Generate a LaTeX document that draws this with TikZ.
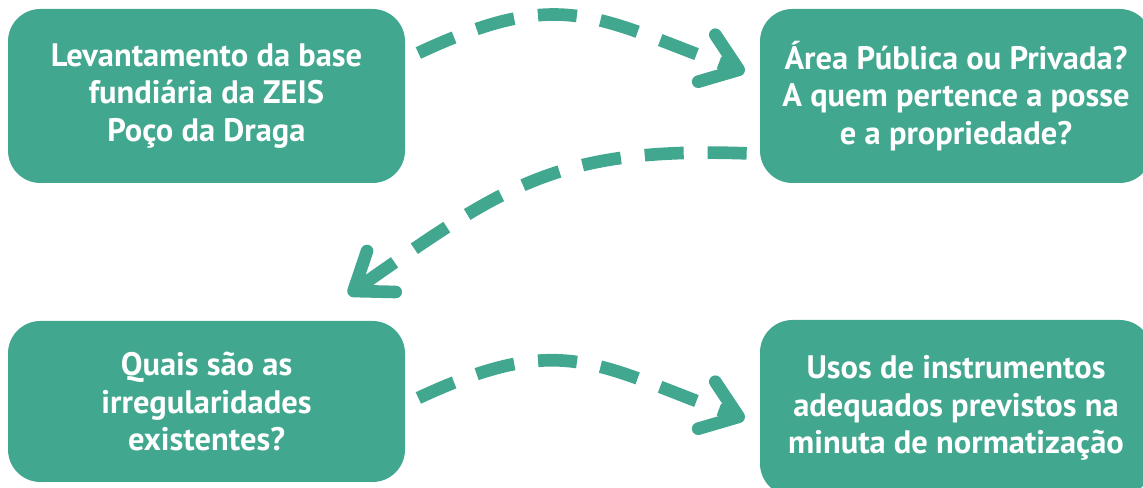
\documentclass[tikz,border=0pt]{standalone}
\usepackage{fontspec}
\setmainfont{PT Sans}
\usetikzlibrary{arrows.meta}
\definecolor{zeisgreen}{HTML}{41A78F}

\begin{document}
\begin{tikzpicture}[
  box/.style={fill=zeisgreen, rounded corners=0.65cm, text=white, align=center,
    font=\bfseries\fontsize{18.5}{21.5}\selectfont, inner sep=0pt},
  flow/.style={zeisgreen, line width=7.2pt, dash pattern=on 0.78cm off 0.48cm,
    -{Straight Barb[length=0.68cm, width=1.0cm, round]}}]
%\draw[help lines] (0,0) grid (23,10);
\clip (0,0) rectangle (22.86,9.76);

\node[box, minimum width=7.94cm, minimum height=3.48cm] (base) at (4.13,7.84)
  {Levantamento da base\\fundiária da ZEIS\\Poço da Draga};
\node[box, minimum width=7.84cm, minimum height=3.48cm] (area) at (19.12,7.84)
  {Área Pública ou Privada?\\A quem pertence a posse\\e a propriedade?};
\node[box, minimum width=7.94cm, minimum height=3.22cm] (irreg) at (4.13,1.73)
  {Quais são as\\irregularidades\\existentes?};
\node[box, minimum width=7.84cm, minimum height=3.52cm] (usos) at (19.12,1.6)
  {Usos de instrumentos\\adequados previstos na\\minuta de normatização};

\draw[flow] ([shift={(0.26,0.86)}]base.east) to[out=25,in=160,looseness=1.25] ([shift={(-0.3,0.48)}]area.west);
\draw[flow] ([shift={(-0.26,0.6)}]area.south west) to[out=178,in=35,looseness=1.15] ([shift={(-1.14,0.52)}]irreg.north east);
\draw[flow] ([shift={(0.26,0.07)}]irreg.east) to[out=25,in=160,looseness=1.25] ([shift={(-0.3,-0.22)}]usos.west);
\end{tikzpicture}
\end{document}
